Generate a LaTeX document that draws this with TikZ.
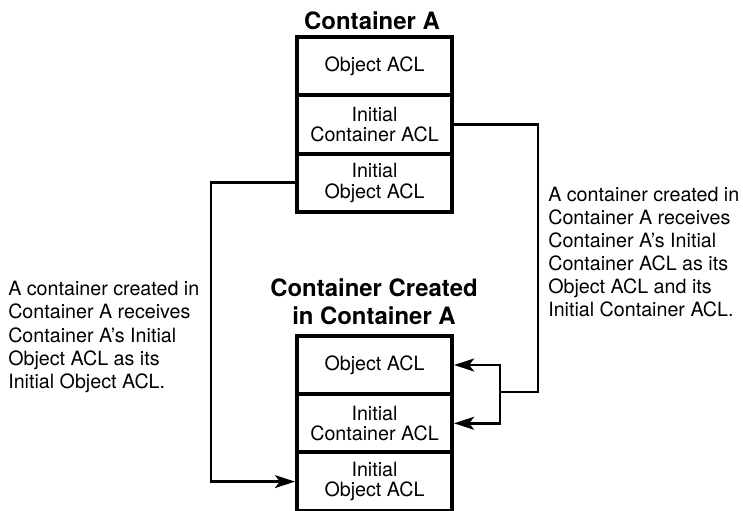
\documentclass[tikz,border=0pt]{standalone}
\usepackage{fontspec}
\setmainfont{TeX Gyre Heros}
\usetikzlibrary{arrows.meta}

\begin{document}
\begin{tikzpicture}[x=0.025cm, y=-0.025cm,
  >={Stealth[length=0.5cm,width=0.32cm,inset=0.12cm]},
  acl/.style={rectangle, draw, line width=2.8pt, minimum width=3.875cm,
    minimum height=1.458cm, inner sep=0pt, align=center,
    font=\fontsize{14}{14.5}\selectfont},
  heading/.style={font=\fontsize{17}{20}\selectfont\bfseries, align=center, inner sep=0pt},
  note/.style={font=\fontsize{14}{16.4}\selectfont, align=left, anchor=west, inner sep=0pt},
  link/.style={line width=2.1pt}]

\useasboundingbox (0,0) rectangle (743,511);

% Container A
\node[heading] (titleA) at (372,21) {Container A};
\node[acl] (a1) at (374.5,66.2) {Object ACL};
\node[acl] (a2) at (374.5,124.5) {Initial\\Container ACL};
\node[acl] (a3) at (374.5,182.8) {Initial\\Object ACL};

% container created inside it
\node[heading] (titleB) at (374,302) {Container Created\\in Container A};
\node[acl] (b1) at (374.5,365) {Object ACL};
\node[acl] (b2) at (374.5,423.3) {Initial\\Container ACL};
\node[acl] (b3) at (374.5,481.6) {Initial\\Object ACL};

% notes
\node[note] (noteL) at (8,337)
  {A container created in\\Container A receives\\Container A's Initial\\Object ACL as its\\Initial Object ACL.};
\node[note] (noteR) at (548,252)
  {A container created in\\Container A receives\\Container A's Initial\\Container ACL as its\\Object ACL and its\\Initial Container ACL.};

% inheritance
\coordinate (rturn) at (538,392);
\coordinate (fork) at (500,392);
\coordinate (lturn) at (211,481.6);

\draw[link] (a2.east) -| (rturn) -- (fork);
\draw[link,->] (fork) |- (b1.east);
\draw[link,->] (fork) |- (b2.east);
\draw[link,->] (a3.west) -| (lturn) -- (b3.west);
\end{tikzpicture}
\end{document}
